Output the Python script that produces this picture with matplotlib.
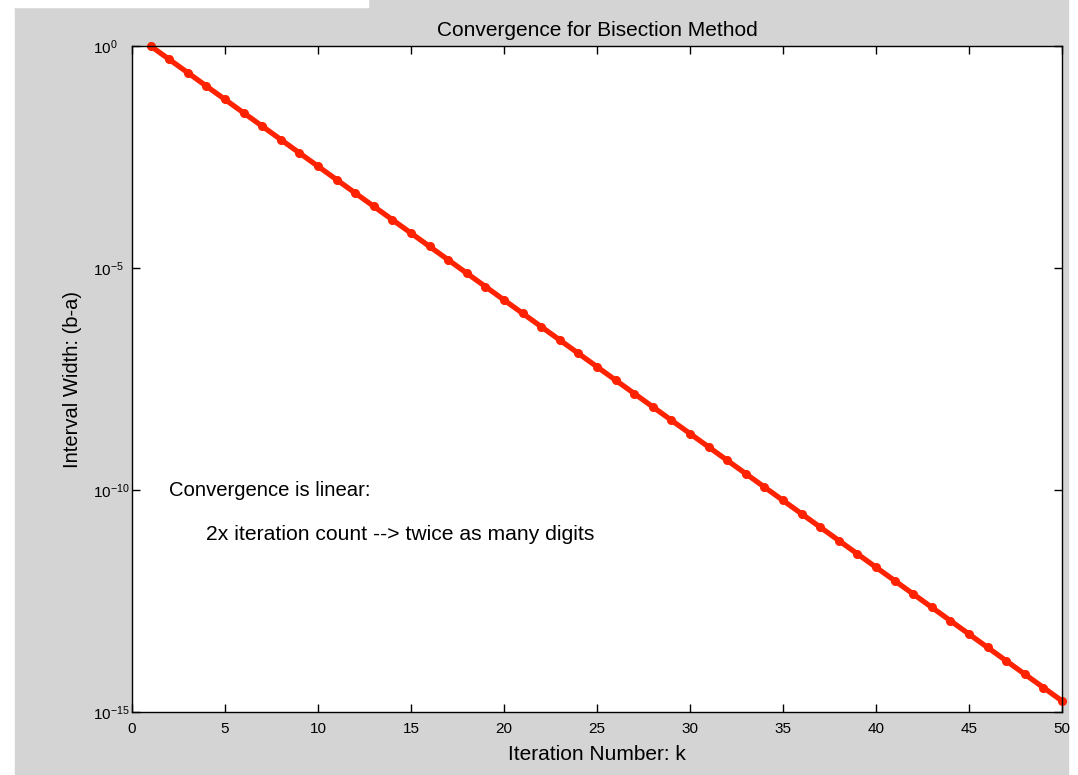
import matplotlib
matplotlib.use('Agg')
import matplotlib.pyplot as plt
from matplotlib.patches import Rectangle

# iteration number k and interval width (b-a)
iterations = list(range(1, 51))
interval_width = [
    1.0, 5.0e-1, 2.5e-1, 1.25e-1, 6.25e-2, 3.125e-2, 1.5625e-2, 7.8125e-3,
    3.90625e-3, 1.953125e-3, 9.765625e-4, 4.8828125e-4, 2.44140625e-4,
    1.220703125e-4, 6.103515625e-5, 3.0517578125e-5, 1.52587890625e-5,
    7.62939453125e-6, 3.814697265625e-6, 1.9073486328125e-6,
    9.5367431640625e-7, 4.76837158203125e-7, 2.384185791015625e-7,
    1.1920928955078125e-7, 5.960464477539063e-8, 2.9802322387695312e-8,
    1.4901161193847656e-8, 7.450580596923828e-9, 3.725290298461914e-9,
    1.862645149230957e-9, 9.313225746154785e-10, 4.656612873077393e-10,
    2.3283064365386963e-10, 1.1641532182693481e-10, 5.820766091346741e-11,
    2.9103830456733704e-11, 1.4551915228366852e-11, 7.275957614183426e-12,
    3.637978807091713e-12, 1.8189894035458565e-12, 9.094947017729282e-13,
    4.547473508864641e-13, 2.2737367544323206e-13, 1.1368683772161603e-13,
    5.684341886080802e-14, 2.842170943040401e-14, 1.4210854715202004e-14,
    7.105427357601002e-15, 3.552713678800501e-15, 1.7763568394002505e-15,
]
x_ticks = [0, 5, 10, 15, 20, 25, 30, 35, 40, 45, 50]
y_ticks = [1e0, 1e-5, 1e-10, 1e-15]
y_tick_labels = [r'$10^{0}$', r'$10^{-5}$', r'$10^{-10}$', r'$10^{-15}$']

plt.rcParams['font.family'] = ['Liberation Sans', 'DejaVu Sans']
plt.rcParams['mathtext.fontset'] = 'custom'
plt.rcParams['mathtext.rm'] = 'Liberation Sans'
plt.rcParams['mathtext.it'] = 'Liberation Sans'

W, H = 1078, 775
fig = plt.figure(figsize=(W / 100, H / 100), dpi=100, facecolor='white')

# gray window background with white strip at top-left
fig.patches.append(Rectangle((15 / W, 0), (1068 - 15) / W, 1,
                             transform=fig.transFigure, color='#d4d4d4',
                             zorder=-10))
fig.patches.append(Rectangle((0, 1 - 7 / H), 368 / W, 7 / H,
                             transform=fig.transFigure, color='white',
                             zorder=-9))

ax = fig.add_axes([132 / W, 1 - 712 / H, (1062 - 132) / W, (712 - 46) / H])
ax.set_facecolor('white')

ax.semilogy(iterations, interval_width, color='#ff2200', linewidth=3.8,
            marker='o', markersize=5.5, clip_on=False)

ax.set_xlim(0, 50)
ax.set_ylim(1e-15, 1e0)
ax.set_xticks(x_ticks)
ax.set_yticks(y_ticks)
ax.set_yticklabels(y_tick_labels)
ax.yaxis.set_minor_locator(matplotlib.ticker.NullLocator())
ax.tick_params(direction='in', top=True, right=True, length=6, width=1,
               labelsize=11)
ax.tick_params(axis='x', pad=7)
ax.tick_params(axis='y', pad=28)
# matlab-style: the "10" base lines up on the left
for lbl in ax.get_yticklabels():
    lbl.set_horizontalalignment('left')

for s in ax.spines.values():
    s.set_linewidth(1)

ax.set_title('Convergence for Bisection Method', fontsize=15, pad=7)
ax.set_xlabel('Iteration Number: k', fontsize=15, labelpad=7)
ax.set_ylabel('Interval Width: (b-a)', fontsize=14.5, labelpad=8)

ax.text(2, 1e-10, 'Convergence is linear:', fontsize=14.6, va='center')
ax.text(4, 1e-11, '2x iteration count --> twice as many digits',
        fontsize=15.2, va='center')

fig.savefig('out.png', dpi=100)
